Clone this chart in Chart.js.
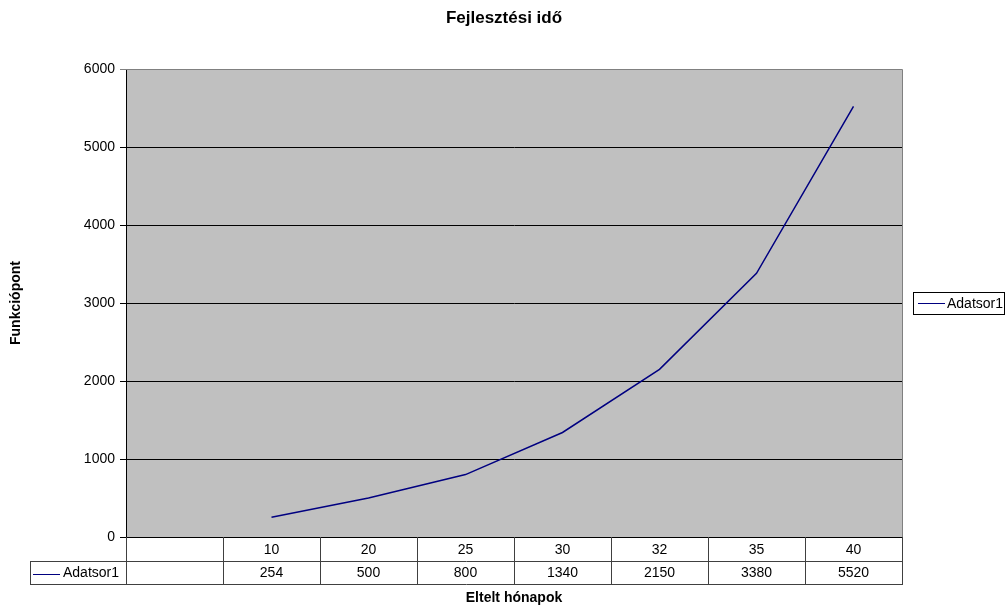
<!DOCTYPE html>
<html>
<head>
<meta charset="utf-8">
<title>Fejlesztési idő</title>
<script src="https://cdn.jsdelivr.net/npm/chart.js@4/dist/chart.umd.min.js"></script>
<style>
  html, body { margin: 0; padding: 0; background: #fff; }
  #wrap { width: 1006px; height: 609px; }
</style>
</head>
<body>
<div id="wrap"><canvas id="chart" width="1006" height="609"></canvas></div>
<script>
// Data
const months = ['10', '20', '25', '30', '32', '35', '40'];
const points = [254, 500, 800, 1340, 2150, 3380, 5520];
const seriesName = 'Adatsor1';
const yTicks = [0, 1000, 2000, 3000, 4000, 5000, 6000];

const chartTitle = 'Fejlesztési idő';
const xTitle = 'Eltelt hónapok';
const yTitle = 'Funkciópont';

const font = '"Liberation Sans", Arial, sans-serif';
const lineColor = '#000080';

// the table has an empty first column, so the category axis gets one blank label
const labels = [''].concat(months);
const values = [null].concat(points);

// Excel style plot background, data table, legend and titles
const excelPlugin = {
    id: 'excel',
    beforeDraw(chart) {
        const a = chart.chartArea;
        const ctx = chart.ctx;
        ctx.save();
        ctx.fillStyle = '#c0c0c0';
        ctx.fillRect(a.left, a.top, a.right - a.left, a.bottom - a.top);
        ctx.restore();
    },
    afterDraw(chart) {
        const a = chart.chartArea;
        const ctx = chart.ctx;
        const xs = chart.scales.x;
        const band = (xs.right - xs.left) / labels.length;
        const row1 = a.bottom + 24;
        const row2 = row1 + 23;
        const tableLeft = 30;

        ctx.save();
        // plot border (top and right)
        ctx.strokeStyle = '#808080';
        ctx.lineWidth = 1;
        ctx.beginPath();
        ctx.moveTo(a.left, Math.round(a.top) + 0.5);
        ctx.lineTo(Math.round(a.right) + 0.5, Math.round(a.top) + 0.5);
        ctx.lineTo(Math.round(a.right) + 0.5, Math.round(a.bottom));
        ctx.stroke();

        // data table grid
        ctx.strokeStyle = '#404040';
        ctx.beginPath();
        for (let i = 0; i <= labels.length; i++) {
            const x = Math.round(xs.left + i * band) + 0.5;
            ctx.moveTo(x, a.bottom);
            ctx.lineTo(x, row2);
        }
        ctx.moveTo(tableLeft, row1 + 0.5);
        ctx.lineTo(Math.round(a.right) + 1, row1 + 0.5);
        ctx.moveTo(tableLeft, row2 + 0.5);
        ctx.lineTo(Math.round(a.right) + 1, row2 + 0.5);
        ctx.moveTo(tableLeft + 0.5, row1);
        ctx.lineTo(tableLeft + 0.5, row2 + 1);
        ctx.stroke();

        ctx.fillStyle = '#000';
        ctx.font = '14px ' + font;
        ctx.textAlign = 'center';
        ctx.textBaseline = 'middle';
        const y1 = (a.bottom + row1) / 2 + 1;
        const y2 = (row1 + row2) / 2 + 1;
        for (let i = 1; i < labels.length; i++) {
            const cx = xs.getPixelForTick(i);
            ctx.fillText(labels[i], cx, y1);
            ctx.fillText(String(values[i]), cx, y2);
        }

        // series key in the table
        ctx.strokeStyle = lineColor;
        ctx.lineWidth = 1;
        ctx.beginPath();
        ctx.moveTo(33, Math.round(y2) + 0.5);
        ctx.lineTo(60, Math.round(y2) + 0.5);
        ctx.stroke();
        ctx.textAlign = 'left';
        ctx.fillText(seriesName, 63, y2);

        // legend on the right
        ctx.strokeStyle = '#000';
        ctx.strokeRect(913.5, 292.5, 91, 22);
        ctx.strokeStyle = lineColor;
        ctx.beginPath();
        ctx.moveTo(918, 303.5);
        ctx.lineTo(945, 303.5);
        ctx.stroke();
        ctx.fillText(seriesName, 947, 304);

        // titles
        ctx.textAlign = 'center';
        ctx.font = 'bold 17px ' + font;
        ctx.fillText(chartTitle, 504, 18);
        ctx.font = 'bold 14px ' + font;
        ctx.fillText(xTitle, (a.left + a.right) / 2, 598);
        ctx.translate(16, (a.top + a.bottom) / 2);
        ctx.rotate(-Math.PI / 2);
        ctx.fillText(yTitle, 0, 0);
        ctx.restore();
    }
};

new Chart(document.getElementById('chart'), {
    type: 'line',
    data: {
        labels: labels,
        datasets: [{
            label: seriesName,
            data: values,
            borderColor: lineColor,
            borderWidth: 1.5,
            pointRadius: 0,
            tension: 0,
            fill: false
        }]
    },
    options: {
        responsive: false,
        animation: false,
        layout: { padding: { left: 0, top: 69, right: 104, bottom: 72 } },
        plugins: {
            legend: { display: false },
            title: { display: false },
            tooltip: { enabled: false }
        },
        scales: {
            x: {
                type: 'category',
                offset: true,
                display: false
            },
            y: {
                min: yTicks[0],
                max: yTicks[yTicks.length - 1],
                afterFit: (scale) => { scale.width = 126; },
                afterBuildTicks: (scale) => { scale.ticks = yTicks.map(v => ({ value: v })); },
                ticks: {
                    color: '#000',
                    padding: 5,
                    font: { family: font, size: 14 },
                    callback: (v) => String(v)
                },
                grid: {
                    color: (c) => c.tick && c.tick.value === yTicks[yTicks.length - 1] ? '#808080' : '#000',
                    lineWidth: 1,
                    tickLength: 6
                },
                border: { color: '#000', width: 1 }
            }
        }
    },
    plugins: [excelPlugin]
});
</script>
</body>
</html>
